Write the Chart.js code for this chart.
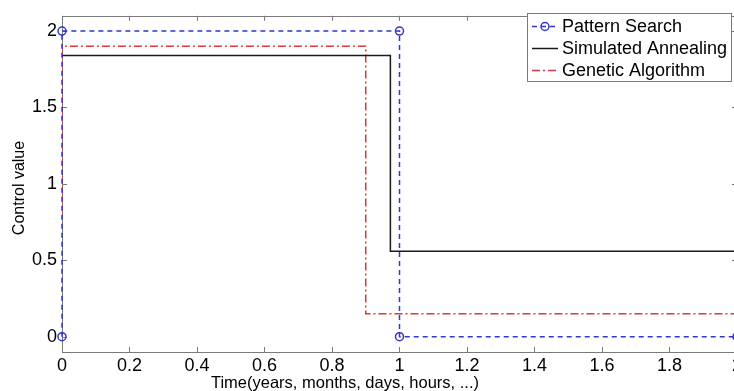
<!DOCTYPE html>
<html><head><meta charset="utf-8">
<script src="https://cdn.jsdelivr.net/npm/chart.js@4"></script>
<style>html,body{margin:0;padding:0;overflow:hidden;background:#fff}</style>
</head><body>
<canvas id="c" width="745" height="391"></canvas>
<script>
const xTickValues=[0,0.2,0.4,0.6,0.8,1,1.2,1.4,1.6,1.8,2];
const xTickLabels=["0","0.2","0.4","0.6","0.8","1","1.2","1.4","1.6","1.8","2"];
const yTickValues=[0,0.5,1,1.5,2];
const yTickLabels=["0","0.5","1","1.5","2"];
const seriesNames=["Pattern Search","Simulated Annealing","Genetic Algorithm"];
const psX=[0,0,1,1,2];
const psY=[0,2,2,0,0];
const saX=[0,0.973,0.973,2];
const saY=[1.84,1.84,0.56,0.56];
const gaX=[0,0,0.9,0.9,2];
const gaY=[0.8,1.9,1.9,0.15,0.15];
const xTitle="Time(years, months, days, hours, ...)";
const yTitle="Control value";

const FONT='"Liberation Sans", Arial, sans-serif';
const BLUE='#3535d0', BLACK='#1a1a1a', RED='#d63a3a', AXIS='#7a7a7a';
const pts=(xs,ys)=>xs.map((x,i)=>({x:x,y:ys[i]}));

const decor={
  id:'decor',
  beforeDatasetsDraw(chart){
    const {ctx,chartArea:a,scales:{x,y}}=chart;
    ctx.save();
    ctx.strokeStyle=AXIS;ctx.lineWidth=1;
    ctx.strokeRect(Math.round(a.left)+0.5,Math.round(a.top)+0.5,Math.round(a.right-a.left),Math.round(a.bottom-a.top));
    ctx.beginPath();
    const L=5;
    xTickValues.forEach(v=>{const p=Math.round(x.getPixelForValue(v))+0.5;
      ctx.moveTo(p,a.bottom);ctx.lineTo(p,a.bottom-L);ctx.moveTo(p,a.top);ctx.lineTo(p,a.top+L);});
    yTickValues.forEach(v=>{const p=Math.round(y.getPixelForValue(v))+0.5;
      ctx.moveTo(a.left,p);ctx.lineTo(a.left+L,p);ctx.moveTo(a.right,p);ctx.lineTo(a.right-L,p);});
    ctx.stroke();
    ctx.restore();
  },
  afterDraw(chart){
    const {ctx}=chart;
    ctx.save();
    ctx.fillStyle='#000';
    ctx.font='16.5px '+FONT;
    ctx.textAlign='center';ctx.textBaseline='middle';
    ctx.fillText(xTitle,345,383);
    ctx.font='16px '+FONT;
    ctx.translate(20,188);ctx.rotate(-Math.PI/2);
    ctx.fillText(yTitle,0,0);
    ctx.restore();
    // legend
    ctx.save();
    const bx=527.5,by=13.5,bw=204,bh=68;
    ctx.fillStyle='#fff';ctx.fillRect(bx,by,bw,bh);
    ctx.strokeStyle=AXIS;ctx.lineWidth=1;ctx.strokeRect(bx,by,bw,bh);
    const rows=[26,48,70];
    chart.data.datasets.forEach((ds,i)=>{
      const yy=rows[i]+0.5;
      ctx.strokeStyle=ds.borderColor;ctx.lineWidth=ds.borderWidth;
      ctx.setLineDash(ds.borderDash||[]);
      ctx.beginPath();ctx.moveTo(532,yy);ctx.lineTo(558,yy);ctx.stroke();
      ctx.setLineDash([]);
      if(ds.pointRadius>0){ctx.beginPath();ctx.arc(545,yy,ds.pointRadius,0,Math.PI*2);ctx.lineWidth=1.5;ctx.stroke();}
      ctx.fillStyle='#000';ctx.font='18px '+FONT;ctx.textAlign='left';ctx.textBaseline='middle';
      ctx.fillText(ds.label,562,yy+1);
    });
    ctx.restore();
  }
};

new Chart(document.getElementById('c'),{
  type:'line',
  data:{datasets:[
    {label:seriesNames[0],data:pts(psX,psY),borderColor:BLUE,borderWidth:1.5,borderDash:[5,4],
     pointRadius:4,pointBorderWidth:1.5,pointBackgroundColor:'rgba(0,0,0,0)',pointBorderColor:BLUE,clip:false,tension:0},
    {label:seriesNames[1],data:pts(saX,saY),borderColor:BLACK,borderWidth:1.5,pointRadius:0,tension:0},
    {label:seriesNames[2],data:pts(gaX,gaY),borderColor:RED,borderWidth:1.5,borderDash:[8,3,2,3],pointRadius:0,tension:0}
  ]},
  options:{
    responsive:false,animation:false,
    layout:{padding:{top:10,right:8,bottom:0,left:0}},
    plugins:{legend:{display:false},tooltip:{enabled:false}},
    scales:{
      x:{type:'linear',min:0,max:2,
        afterBuildTicks:s=>{s.ticks=xTickValues.map(v=>({value:v}));},
        afterFit:s=>{s.height=39;},
        grid:{display:false,drawTicks:false},border:{display:false},
        ticks:{autoSkip:false,maxRotation:0,padding:3,color:'#000',font:{family:FONT,size:18},
          callback:(v,i)=>xTickLabels[i]}},
      y:{type:'linear',min:-0.1,max:2.1,
        afterBuildTicks:s=>{s.ticks=yTickValues.map(v=>({value:v}));},
        afterFit:s=>{s.width=62;},
        grid:{display:false,drawTicks:false},border:{display:false},
        ticks:{padding:5,color:'#000',font:{family:FONT,size:18},
          callback:(v,i)=>yTickLabels[i]}}
    }
  },
  plugins:[decor]
});
</script>
</body></html>
